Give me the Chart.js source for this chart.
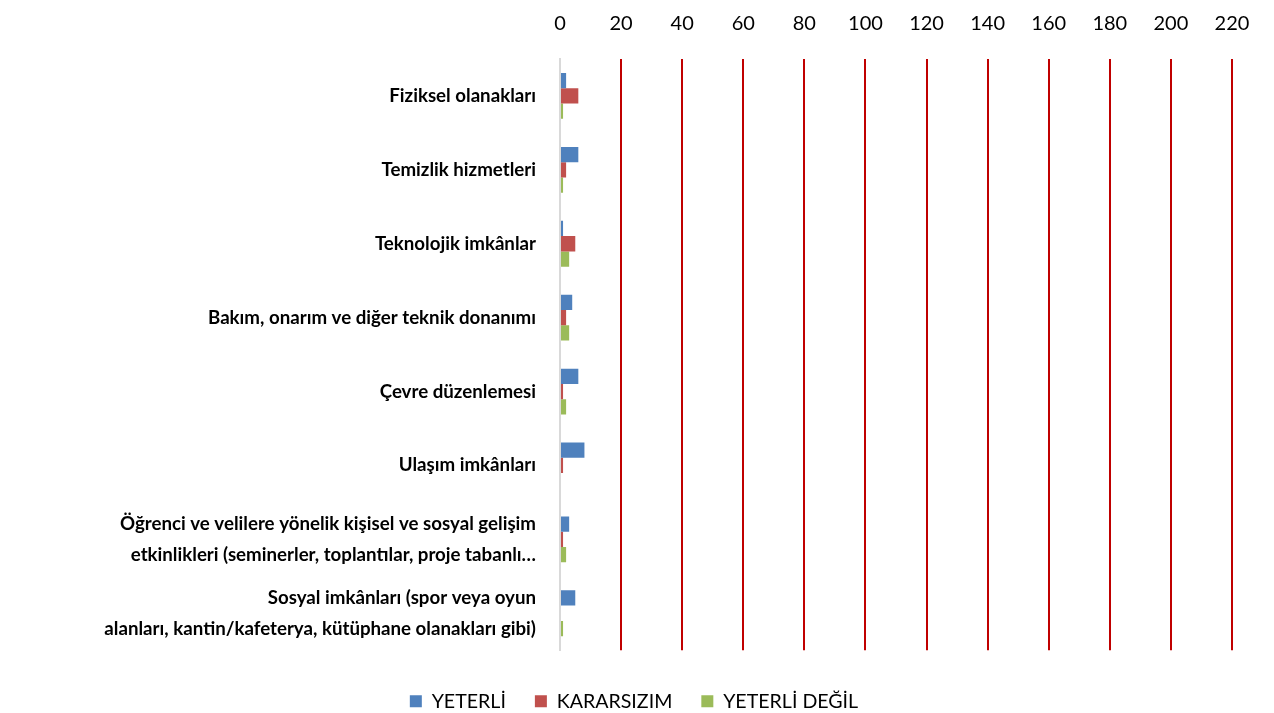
<!DOCTYPE html>
<html>
<head>
<meta charset="utf-8">
<script src="https://cdn.jsdelivr.net/npm/chart.js@4"></script>
<style>
  html, body { margin: 0; padding: 0; background: #fff; }
  #wrap { width: 1274px; height: 713px; }
</style>
</head>
<body>
<div id="wrap"><canvas id="grafik" width="1274" height="713"></canvas></div>
<script>
const kategoriler = [
  'Fiziksel olanakları',
  'Temizlik hizmetleri',
  'Teknolojik imkânlar',
  'Bakım, onarım ve diğer teknik donanımı',
  'Çevre düzenlemesi',
  'Ulaşım imkânları',
  ['Öğrenci ve velilere yönelik kişisel ve sosyal gelişim', 'etkinlikleri (seminerler, toplantılar, proje tabanlı…'],
  ['Sosyal imkânları (spor veya oyun', 'alanları, kantin/kafeterya, kütüphane olanakları gibi)']
];
const yeterli = [2, 6, 1, 4, 6, 8, 3, 5];
const kararsizim = [6, 2, 5, 2, 1, 1, 1, 0];
const yeterliDegil = [1, 1, 3, 3, 2, 0, 2, 1];
const eksenMax = 220;
const eksenAdim = 20;

const ctx = document.getElementById('grafik');
new Chart(ctx, {
  type: 'bar',
  data: {
    labels: kategoriler,
    datasets: [
      { label: 'YETERLİ', data: yeterli, backgroundColor: '#4F81BD' },
      { label: 'KARARSIZIM', data: kararsizim, backgroundColor: '#C0504D' },
      { label: 'YETERLİ DEĞİL', data: yeterliDegil, backgroundColor: '#9BBB59' }
    ]
  },
  options: {
    indexAxis: 'y',
    responsive: false,
    animation: false,
    layout: { padding: { top: 6, right: 42, bottom: -8, left: 36 } },
    datasets: { bar: { categoryPercentage: 0.62, barPercentage: 1 } },
    scales: {
      x: {
        position: 'top',
        min: 0,
        max: eksenMax,
        ticks: { stepSize: eksenAdim, color: '#000', padding: 23, font: { family: 'Lato', size: 20 } },
        grid: {
          color: c => c.tick && c.tick.value === 0 ? '#D9D9D9' : '#C00000',
          lineWidth: 2,
          drawTicks: false
        },
        border: { display: false },
        afterFit: s => { s.height = 53; }
      },
      y: {
        ticks: { color: '#000', padding: 16, font: { family: 'Lato', size: 18.7, weight: 'bold', lineHeight: 1.65 } },
        grid: { display: false },
        border: { color: '#D9D9D9', width: 2 },
        afterFit: s => { s.width = 524; }
      }
    },
    plugins: {
      legend: {
        position: 'bottom',
        title: { display: true, text: ' ', font: { size: 1 }, padding: { top: 0, bottom: 11 } },
        labels: { color: '#000', boxWidth: 12, boxHeight: 12, padding: 29, font: { family: 'Lato', size: 19.6 } }
      },
      tooltip: { enabled: false }
    }
  }
});
</script>
</body>
</html>
